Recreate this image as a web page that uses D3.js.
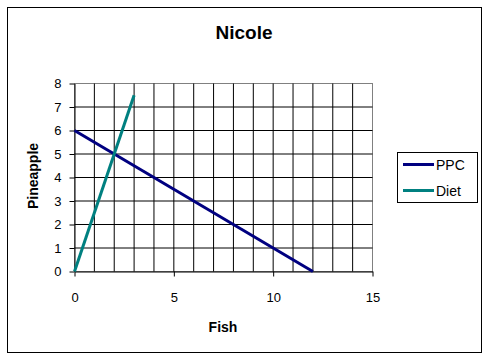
<!DOCTYPE html>
<html>
<head>
<meta charset="utf-8">
<script src="https://cdn.jsdelivr.net/npm/d3@7"></script>
<style>
  body { margin: 0; background: #fff; }
  svg text { font-family: "Liberation Sans", Arial, sans-serif; }
</style>
</head>
<body>
<script>
// chart data
var seriesNames = ["PPC", "Diet"];
var seriesColors = ["#000080", "#008080"];
var ppcX = [0, 12];
var ppcY = [6, 0];
var dietX = [0, 3];
var dietY = [0, 7.5];
var xTicks = [0, 5, 10, 15];
var yTicks = [0, 1, 2, 3, 4, 5, 6, 7, 8];

var width = 488, height = 360;

var svg = d3.select("body").append("svg")
    .attr("width", width)
    .attr("height", height);

// outer chart border
svg.append("rect")
    .attr("x", 7.5).attr("y", 7.5)
    .attr("width", 474).attr("height", 345)
    .attr("fill", "white")
    .attr("stroke", "black");

var x = d3.scaleLinear().domain([0, 15]).range([74.5, 372.5]);
var y = d3.scaleLinear().domain([0, 8]).range([271.5, 83.5]);

// plot area border (grey top/right)
svg.append("rect")
    .attr("x", x(0)).attr("y", y(8))
    .attr("width", x(15) - x(0)).attr("height", y(0) - y(8))
    .attr("fill", "none")
    .attr("stroke", "#808080");

// gridlines
svg.append("g").selectAll("line")
    .data(d3.range(1, 15))
    .enter().append("line")
    .attr("x1", function(d) { return x(d); })
    .attr("x2", function(d) { return x(d); })
    .attr("y1", y(0)).attr("y2", y(8))
    .attr("stroke", "black");

svg.append("g").selectAll("line")
    .data(d3.range(1, 8))
    .enter().append("line")
    .attr("x1", x(0)).attr("x2", x(15))
    .attr("y1", function(d) { return y(d); })
    .attr("y2", function(d) { return y(d); })
    .attr("stroke", "black");

// axes
var xAxis = svg.append("g")
    .attr("transform", "translate(0," + y(0) + ")")
    .call(d3.axisBottom(x).tickValues(xTicks).tickSize(5).tickSizeOuter(0).tickPadding(16));
var yAxis = svg.append("g")
    .attr("transform", "translate(" + x(0) + ",0)")
    .call(d3.axisLeft(y).tickValues(yTicks).tickSize(5).tickSizeOuter(0).tickPadding(8));

[xAxis, yAxis].forEach(function(a) {
    a.select(".domain").attr("stroke", "black");
    a.selectAll(".tick line").attr("stroke", "black");
    a.selectAll(".tick text")
        .attr("fill", "black")
        .style("font-size", "13px")
        .style("font-family", "'Liberation Sans', Arial, sans-serif");
});

// series lines
var line = d3.line()
    .x(function(d) { return x(d[0]); })
    .y(function(d) { return y(d[1]); });

var series = [
    d3.zip(ppcX, ppcY),
    d3.zip(dietX, dietY)
];

series.forEach(function(s, i) {
    svg.append("path")
        .datum(s)
        .attr("d", line)
        .attr("fill", "none")
        .attr("stroke", seriesColors[i])
        .attr("stroke-width", 3);
});

// titles
svg.append("text")
    .attr("x", 244).attr("y", 39)
    .attr("text-anchor", "middle")
    .style("font-size", "19px")
    .style("font-weight", "bold")
    .text("Nicole");

svg.append("text")
    .attr("x", 223).attr("y", 332)
    .attr("text-anchor", "middle")
    .style("font-size", "14px")
    .style("font-weight", "bold")
    .text("Fish");

svg.append("text")
    .attr("transform", "translate(38,176) rotate(-90)")
    .attr("text-anchor", "middle")
    .style("font-size", "14px")
    .style("font-weight", "bold")
    .text("Pineapple");

// legend
var legend = svg.append("g");
legend.append("rect")
    .attr("x", 397.5).attr("y", 152.5)
    .attr("width", 80).attr("height", 50)
    .attr("fill", "white")
    .attr("stroke", "black");

seriesNames.forEach(function(name, i) {
    var ly = 164.5 + i * 26;
    legend.append("line")
        .attr("x1", 403).attr("x2", 434)
        .attr("y1", ly).attr("y2", ly)
        .attr("stroke", seriesColors[i])
        .attr("stroke-width", 3);
    legend.append("text")
        .attr("x", 436).attr("y", ly + 5)
        .style("font-size", "14px")
        .text(name);
});
</script>
</body>
</html>
